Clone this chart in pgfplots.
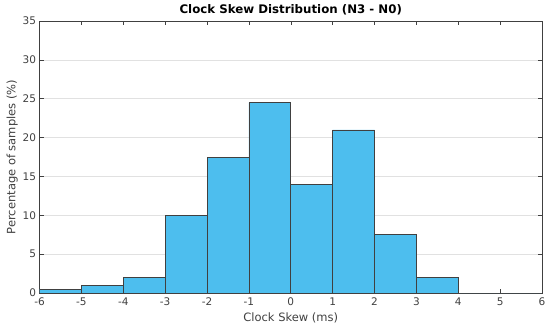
\documentclass[border=0pt]{standalone}
\usepackage{pgfplots}
\pgfplotsset{compat=1.18}
\usepackage{fontspec}
\setmainfont{DejaVu Sans}
\definecolor{barfill}{RGB}{77,190,238}
\definecolor{axgray}{RGB}{64,64,64}
\definecolor{gridgray}{RGB}{225,225,225}
\begin{document}
\begin{tikzpicture}[x=1bp,y=1bp]
\useasboundingbox (0,0) rectangle (550,330);
\begin{axis}[
  at={(39.5bp,37bp)}, anchor=south west,
  scale only axis, width=502.5bp, height=272bp,
  xmin=-6, xmax=6, ymin=0, ymax=35,
  xtick={-6,-5,...,6}, ytick={0,5,...,35},
  xticklabels={-6,-5,-4,-3,-2,-1,0,1,2,3,4,5,6},
  ymajorgrids, grid style={gridgray, line width=0.6bp},
  tick align=inside, major tick length=4bp,
  axis line style={axgray, line width=0.6bp},
  tick style={axgray, line width=0.5bp},
  ticklabel style={font=\fontsize{10.5bp}{12bp}\selectfont, text=axgray},
  xticklabel style={yshift=-1.5bp},
  /pgf/number format/assume math mode=true,
  xlabel={Clock Skew (ms)}, ylabel={Percentage of samples (\%)},
  label style={font=\fontsize{11.5bp}{13bp}\selectfont, text=axgray},
  xlabel style={yshift=0bp},
  ylabel style={yshift=-2bp},
  title={\textbf{Clock Skew Distribution (N3 - N0)}},
  title style={font=\fontsize{11.8bp}{13bp}\selectfont, yshift=-4bp},
]
\addplot[ybar interval, fill=barfill, draw=black!75, line width=0.6bp]
  coordinates {(-6,0.5) (-5,1) (-4,2) (-3,10) (-2,17.5) (-1,24.5) (0,14) (1,21) (2,7.5) (3,2) (4,0) (5,0) (6,0)};
\end{axis}
\end{tikzpicture}
\end{document}
